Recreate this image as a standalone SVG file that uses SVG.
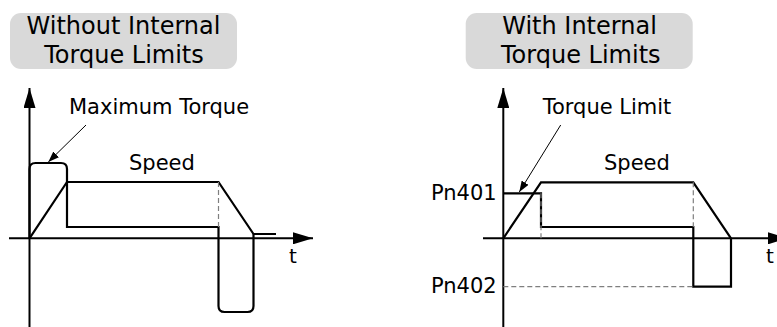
<svg xmlns="http://www.w3.org/2000/svg" width="777" height="327" viewBox="0 0 777 327">
  <style>
    .title { font-family: "DejaVu Sans", Verdana, sans-serif; font-size: 24px; fill: #000; text-anchor: middle; }
    .lbl { font-family: "DejaVu Sans", Verdana, sans-serif; font-size: 21px; fill: #000; }
    .box { fill: #d9d9d9; stroke: none; }
    .axis { fill: none; stroke: #000; stroke-width: 2; }
    .sig { fill: none; stroke: #000; stroke-width: 2.2; stroke-linejoin: miter; }
    .dash { fill: none; stroke: #7f7f7f; stroke-width: 1.2; stroke-dasharray: 5 3; }
    .ptr { fill: none; stroke: #000; stroke-width: 1; }
  </style>
  <defs>
    <marker id="axisHead" viewBox="0 0 20 12" refX="20" refY="6" markerWidth="20" markerHeight="12" markerUnits="userSpaceOnUse" orient="auto">
      <path d="M0,0 L20,6 L0,12 Z" fill="#000"/>
    </marker>
    <marker id="ptrHead" viewBox="0 0 11 8" refX="11" refY="4" markerWidth="11" markerHeight="8" markerUnits="userSpaceOnUse" orient="auto">
      <path d="M0,0 L11,4 L0,8 Z" fill="#000"/>
    </marker>
  </defs>

  <!-- Left panel -->
  <g id="title-left">
    <rect class="box" x="10" y="13" width="227" height="56" rx="11"/>
    <text class="title" x="123.5" y="34">Without Internal</text>
    <text class="title" x="124" y="63">Torque Limits</text>
  </g>
  <g id="axes-left">
    <line class="axis" x1="29.5" y1="327" x2="29.5" y2="88" marker-end="url(#axisHead)"/>
    <line class="axis" x1="9" y1="238.3" x2="313" y2="238.3" marker-end="url(#axisHead)"/>
    <text class="lbl" x="289" y="263" style="font-size:20px">t</text>
  </g>
  <g id="speed-left">
    <path class="sig" d="M29.5,238.3 L67,182 H218.5 L253.5,234"/>
    <text class="lbl" x="129" y="169.5">Speed</text>
  </g>
  <g id="torque-left">
    <path class="sig" d="M29.5,238.3 V169 Q29.5,163 35.5,163 H61 Q67,163 67,169 V227 H218.5 V306 Q218.5,312 224.5,312 H247.5 Q253.5,312 253.5,306 V234 H276"/>
    <line class="dash" x1="218.5" y1="182" x2="218.5" y2="227"/>
  </g>
  <g id="maxtorque-label">
    <text class="lbl" x="69" y="114">Maximum Torque</text>
  </g>

  <!-- Right panel -->
  <g id="title-right">
    <rect class="box" x="465.7" y="13" width="227" height="56" rx="11"/>
    <text class="title" x="579.5" y="34">With Internal</text>
    <text class="title" x="580.8" y="63">Torque Limits</text>
  </g>
  <g id="axes-right">
    <line class="axis" x1="503.3" y1="327" x2="503.3" y2="88" marker-end="url(#axisHead)"/>
    <line class="axis" x1="483" y1="238.3" x2="788" y2="238.3" marker-end="url(#axisHead)"/>
    <text class="lbl" x="766" y="263" style="font-size:20px">t</text>
  </g>
  <g id="speed-right">
    <path class="sig" d="M503.3,238.3 L541,182.3 H693.3 L731,238.3"/>
    <text class="lbl" x="604" y="170">Speed</text>
  </g>
  <g id="torque-right">
    <path class="sig" d="M503.3,193.3 H541 V227 H693.3 V286.7 H731 V238.3"/>
    <line class="dash" x1="541" y1="193.3" x2="541" y2="238.3"/>
    <line class="dash" x1="693.3" y1="182.3" x2="693.3" y2="227"/>
    <line class="dash" x1="503.3" y1="286.7" x2="693.3" y2="286.7"/>
  </g>
  <g id="pn401">
    <text class="lbl" x="496.7" y="199.5" text-anchor="end">Pn401</text>
  </g>
  <g id="pn402">
    <text class="lbl" x="496.7" y="293.3" text-anchor="end">Pn402</text>
  </g>
  <g id="torquelimit-label">
    <text class="lbl" x="542.7" y="114">Torque Limit</text>
  </g>

  <g id="connectors">
    <line class="ptr" x1="86" y1="125" x2="48.3" y2="162" marker-end="url(#ptrHead)"/>
    <line class="ptr" x1="560.7" y1="125" x2="519.3" y2="192" marker-end="url(#ptrHead)"/>
  </g>
</svg>
